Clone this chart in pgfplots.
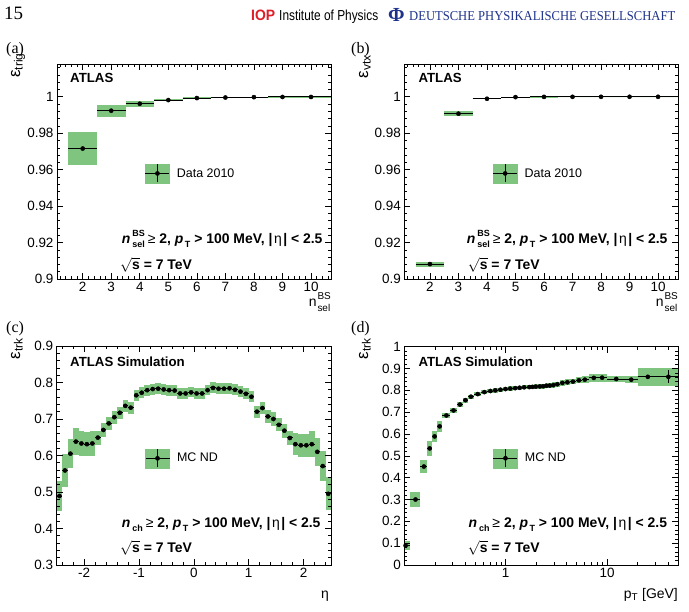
\documentclass[border=0pt]{standalone}
\usepackage{fontspec}
\setmainfont{Liberation Sans}
\newfontfamily\serifface{Liberation Serif}
\usepackage{graphicx}
\usepackage{pgfplots}
\usepackage{pgfplotstable}
\pgfplotsset{compat=1.18}

\definecolor{bandgreen}{RGB}{127,197,127}
\definecolor{iopred}{RGB}{222,30,40}
\definecolor{dpgblue}{RGB}{30,50,140}

\newcommand\fs[1]{\fontsize{#1}{#1}\selectfont}

% ---------------- data ----------------
% trigger efficiency vs n_sel^BS
\pgfplotstableread{
x   xlo  xhi   y        sys     stat
2   1.5  2.5   0.9716   0.0089  0
3   2.5  3.5   0.99236  0.0033  0
4   3.5  4.5   0.99618  0.0017  0
5   4.5  5.5   0.9982   0.0007  0
6   5.5  6.5   0.9993   0.0004  0
7   6.5  7.5   0.9996   0.0002  0
8   7.5  8.5   0.9998   0.0001  0
9   8.5  9.5   0.9999   0.0001  0
10  9.5  10.7  0.9999   0.0001  0
}\tabtrig

% vertex efficiency vs n_sel^BS
\pgfplotstableread{
x   xlo  xhi   y        sys     stat
2   1.5  2.5   0.9082   0.0014  0
3   2.5  3.5   0.99073  0.0013  0
4   3.5  4.5   0.99891  0.0003  0
5   4.5  5.5   0.99982  0.0001  0
6   5.5  6.5   0.99995  0.0001  0
7   6.5  7.5   0.99998  0.0000  0
8   7.5  8.5   0.99999  0.0000  0
9   8.5  9.5   1.0      0.0000  0
10  9.5  10.7  1.0      0.0000  0
}\tabvtx

% track efficiency vs eta
\pgfplotstableread{
x      xlo    xhi    y      sys    stat
-2.45  -2.5   -2.4   0.489  0.042  0
-2.35  -2.4   -2.3   0.559  0.045  0
-2.25  -2.3   -2.2   0.605  0.040  0
-2.15  -2.2   -2.1   0.638  0.036  0
-2.05  -2.1   -2.0   0.633  0.034  0
-1.95  -2.0   -1.9   0.631  0.033  0
-1.85  -1.9   -1.8   0.633  0.033  0
-1.75  -1.8   -1.7   0.649  0.019  0
-1.65  -1.7   -1.6   0.670  0.019  0
-1.55  -1.6   -1.5   0.688  0.018  0
-1.45  -1.5   -1.4   0.705  0.018  0
-1.35  -1.4   -1.3   0.717  0.017  0
-1.25  -1.3   -1.2   0.736  0.016  0
-1.15  -1.2   -1.1   0.731  0.016  0
-1.05  -1.1   -1.0   0.765  0.015  0
-0.95  -1.0   -0.9   0.772  0.015  0
-0.85  -0.9   -0.8   0.779  0.015  0
-0.75  -0.8   -0.7   0.782  0.015  0
-0.65  -0.7   -0.6   0.783  0.015  0
-0.55  -0.6   -0.5   0.781  0.015  0
-0.45  -0.5   -0.4   0.779  0.015  0
-0.35  -0.4   -0.3   0.778  0.015  0
-0.25  -0.3   -0.2   0.770  0.014  0
-0.15  -0.2   -0.1   0.770  0.014  0
-0.05  -0.1    0.0   0.773  0.014  0
 0.05   0.0    0.1   0.770  0.014  0
 0.15   0.1    0.2   0.770  0.014  0
 0.25   0.2    0.3   0.779  0.014  0
 0.35   0.3    0.4   0.785  0.015  0
 0.45   0.4    0.5   0.783  0.015  0
 0.55   0.5    0.6   0.783  0.015  0
 0.65   0.6    0.7   0.784  0.015  0
 0.75   0.7    0.8   0.780  0.015  0
 0.85   0.8    0.9   0.775  0.015  0
 0.95   0.9    1.0   0.769  0.015  0
 1.05   1.0    1.1   0.761  0.015  0
 1.15   1.1    1.2   0.720  0.016  0
 1.25   1.2    1.3   0.730  0.016  0
 1.35   1.3    1.4   0.707  0.017  0
 1.45   1.4    1.5   0.700  0.018  0
 1.55   1.5    1.6   0.684  0.018  0
 1.65   1.6    1.7   0.668  0.019  0
 1.75   1.7    1.8   0.648  0.019  0
 1.85   1.8    1.9   0.631  0.030  0
 1.95   1.9    2.0   0.628  0.032  0
 2.05   2.0    2.1   0.628  0.032  0
 2.15   2.1    2.2   0.631  0.035  0
 2.25   2.2    2.3   0.610  0.038  0
 2.35   2.3    2.4   0.571  0.042  0
 2.45   2.4    2.5   0.495  0.045  0
}\tabeta

% track efficiency vs pT [GeV]
\pgfplotstableread{
x      xlo    xhi    y      sys    stat
0.103  0.100  0.115  0.089  0.019  0
0.129  0.115  0.143  0.300  0.036  0
0.156  0.143  0.166  0.451  0.030  0
0.178  0.166  0.188  0.534  0.034  0
0.199  0.188  0.210  0.589  0.026  0
0.223  0.210  0.238  0.635  0.025  0
0.260  0.238  0.282  0.685  0.013  0
0.306  0.282  0.330  0.708  0.012  0
0.354  0.330  0.378  0.735  0.011  0
0.401  0.378  0.427  0.755  0.011  0
0.454  0.427  0.490  0.771  0.010  0
0.530  0.490  0.572  0.783  0.010  0
0.616  0.572  0.660  0.792  0.010  0
0.706  0.660  0.748  0.797  0.010  0
0.790  0.748  0.838  0.800  0.010  0
0.887  0.838  0.940  0.803  0.010  0
0.995  0.940  1.050  0.806  0.010  0
1.110  1.050  1.175  0.808  0.010  0
1.240  1.175  1.305  0.810  0.010  0
1.370  1.305  1.445  0.812  0.010  0
1.520  1.445  1.610  0.814  0.010  0
1.710  1.610  1.775  0.815  0.010  0
1.840  1.775  1.910  0.816  0.010  0
1.980  1.910  2.070  0.817  0.010  0
2.170  2.070  2.255  0.818  0.010  0
2.340  2.255  2.430  0.819  0.011  0
2.520  2.430  2.620  0.821  0.011  0
2.720  2.620  2.830  0.822  0.011  0
2.950  2.830  3.090  0.824  0.012  0
3.230  3.090  3.420  0.828  0.012  0
3.620  3.420  3.840  0.834  0.012  0
4.060  3.840  4.330  0.837  0.013  0
4.600  4.330  4.920  0.840  0.013  0
5.270  4.920  5.640  0.846  0.014  0
6.030  5.640  6.700  0.849  0.015  0
7.390  6.700  8.000  0.857  0.017  0
8.930  8.000  10.00  0.858  0.018  0
12.30  10.00  15.00  0.852  0.016  0.003
17.30  15.00  20.00  0.849  0.016  0.004
25.20  20.00  30.00  0.862  0.040  0.008
40.20  30.00  50.00  0.862  0.042  0.030
}\tabpt

% ---------------- styles ----------------
\pgfplotsset{
  sysbox/.style={fill=bandgreen, draw=none, forget plot},
  binline/.style={black, line width=1bp, forget plot},
  datapts/.style={only marks, mark=*, mark size=2.1bp, black, forget plot,
    error bars/.cd, y dir=both, y explicit, error mark=none,
    error bar style={line width=1bp, black}},
  legimg/.style={legend image code/.code={
    \fill[bandgreen] (0bp,-9.5bp) rectangle (24bp,9.5bp);
    \draw[black,line width=1bp] (0bp,0bp) -- (24bp,0bp);
    \draw[black,line width=1bp] (12bp,-9bp) -- (12bp,9bp);
    \fill[black] (12bp,0bp) circle (2.1bp);}},
  atlasaxis/.style={
    scale only axis, anchor=south west, axis on top,
    axis line style={line width=0.8bp},
    tick align=inside,
    major tick length=6bp, minor tick length=3bp,
    every tick/.append style={black, line width=0.6bp},
    tick label style={font=\fs{13.5}},
    /pgf/number format/assume math mode=true,
    legend style={draw=none, fill=none, inner sep=0pt, outer sep=0pt,
      anchor=west, font=\fs{12.5}, column sep=5bp},
    legend cell align=left,
  },
}

% one green box and one horizontal bin line for every row of a table
\newcommand\binboxes[1]{%
  \pgfplotstablegetrowsof{#1}%
  \pgfmathtruncatemacro\lastrow{\pgfplotsretval-1}%
  \pgfplotsforeachungrouped \r in {0,...,\lastrow}{%
    \pgfplotstablegetelem{\r}{xlo}\of{#1}\let\bxa\pgfplotsretval
    \pgfplotstablegetelem{\r}{xhi}\of{#1}\let\bxb\pgfplotsretval
    \pgfplotstablegetelem{\r}{y}\of{#1}\let\byc\pgfplotsretval
    \pgfplotstablegetelem{\r}{sys}\of{#1}\let\bys\pgfplotsretval
    \pgfmathsetmacro\bya{\byc-\bys}%
    \pgfmathsetmacro\byb{\byc+\bys}%
    \edef\boxcmd{%
      \noexpand\addplot[sysbox] coordinates {(\bxa,\bya) (\bxb,\bya) (\bxb,\byb) (\bxa,\byb)};%
      \noexpand\addplot[binline] coordinates {(\bxa,\byc) (\bxb,\byc)};%
    }%
    \boxcmd
  }%
}

% superscript stacked over subscript: #1 size, #2 raise, #3 drop, #4 upper, #5 lower
\newbox\scrup \newbox\scrdn \newdimen\scrw
\newcommand\stackscr[5]{%
  \setbox\scrup\hbox{\fs{#1}#4}\setbox\scrdn\hbox{\fs{#1}#5}%
  \scrw=\wd\scrup \ifdim\wd\scrdn>\scrw \scrw=\wd\scrdn \fi
  \rlap{\raisebox{#2}{\copy\scrup}}\rlap{\raisebox{-#3}{\copy\scrdn}}\kern\scrw\relax}
\newcommand\lowscr[3]{\raisebox{-#2}{\fs{#1}#3}}
\newcommand\etacut{\textbf{|}\kern1.5bp η\kern1.5bp\textbf{| < 2.5}}
\newcommand\cutsBS{\textbf{\textit{n}\kern2bp\stackscr{9}{7bp}{4bp}{BS}{sel}}\kern3bp≥ \textbf{2, \textit{p}\kern1.5bp\lowscr{9}{4bp}{T}} \textbf{> 100 MeV, }\etacut}
\newcommand\cutsCH{\textbf{\textit{n}\kern2bp\lowscr{9}{4bp}{ch}}\kern3bp≥ \textbf{2, \textit{p}\kern1.5bp\lowscr{9}{4bp}{T}} \textbf{> 100 MeV, }\etacut}
\newcommand\energy{$\sqrt{\mbox{\bfseries s}}$\textbf{ = 7 TeV}}
\newcommand\nsel{n\kern0.8bp\stackscr{10}{7.5bp}{4.5bp}{BS}{sel}}
\newcommand\eps[1]{ε$_{\mbox{\fs{12}#1}}$}

\begin{document}
\begin{tikzpicture}
\useasboundingbox (0,0) rectangle (689bp,612bp);

% page header
\node[anchor=base west, inner sep=0] at (4bp,592bp) {\serifface\fs{19}15};
\node[anchor=base west, inner sep=0] at (251bp,591bp) {\color{iopred}\resizebox{24bp}{10.5bp}{\bfseries IOP}};
\node[anchor=base west, inner sep=0] at (279bp,591bp) {\resizebox{99bp}{10.5bp}{Institute of Physics}};
\node[anchor=base west, inner sep=0] at (388bp,590bp) {\color{dpgblue}\serifface\bfseries\fs{20}Φ};
\node[anchor=base west, inner sep=0] at (409bp,591bp) {\color{dpgblue}\resizebox{266bp}{9bp}{\serifface DEUTSCHE PHYSIKALISCHE GESELLSCHAFT}};

% (a) trigger efficiency
\begin{axis}[atlasaxis, at={(57bp,333bp)}, width=274bp, height=215bp,
  xmin=1.1, xmax=10.7, ymin=0.9, ymax=1.018,
  xtick={2,3,4,5,6,7,8,9,10}, minor xtick={1.2,1.4,...,10.6},
  ytick={0.9,0.92,0.94,0.96,0.98,1}, yticklabels={0.9,0.92,0.94,0.96,0.98,1},
  minor ytick={0.904,0.908,...,1.016},
  legend style={at={(axis description cs:0.321,0.491)}}]
  \binboxes{\tabtrig}
  \addplot[datapts] table[x=x, y=y, y error=stat] {\tabtrig};
  \addlegendimage{legimg}
  \addlegendentry{Data 2010}
\end{axis}

% (b) vertex efficiency
\begin{axis}[atlasaxis, at={(404.3bp,333bp)}, width=273.7bp, height=215bp,
  xmin=1.1, xmax=10.7, ymin=0.9, ymax=1.018,
  xtick={2,3,4,5,6,7,8,9,10}, minor xtick={1.2,1.4,...,10.6},
  ytick={0.9,0.92,0.94,0.96,0.98,1}, yticklabels={0.9,0.92,0.94,0.96,0.98,1},
  minor ytick={0.904,0.908,...,1.016},
  legend style={at={(axis description cs:0.323,0.491)}}]
  \binboxes{\tabvtx}
  \addplot[datapts] table[x=x, y=y, y error=stat] {\tabvtx};
  \addlegendimage{legimg}
  \addlegendentry{Data 2010}
\end{axis}

% (c) track efficiency vs eta
\begin{axis}[atlasaxis, at={(56.7bp,47bp)}, width=274.3bp, height=219bp,
  xmin=-2.5, xmax=2.5, ymin=0.3, ymax=0.9,
  xtick={-2,-1,0,1,2}, xticklabels={-2,-1,0,1,2}, minor xtick={-2.4,-2.2,...,2.4},
  ytick={0.3,0.4,0.5,0.6,0.7,0.8,0.9}, yticklabels={0.3,0.4,0.5,0.6,0.7,0.8,0.9},
  minor ytick={0.32,0.34,...,0.88},
  legend style={at={(axis description cs:0.322,0.487)}}]
  \binboxes{\tabeta}
  \addplot[datapts] table[x=x, y=y, y error=stat] {\tabeta};
  \addlegendimage{legimg}
  \addlegendentry{MC ND}
\end{axis}

% (d) track efficiency vs pT
\begin{axis}[atlasaxis, at={(404.3bp,47bp)}, width=273.7bp, height=218.3bp,
  xmode=log, xmin=0.1, xmax=50, ymin=0, ymax=1,
  xtick={1,10}, xticklabels={1,10},
  minor xtick={0.2,0.3,0.4,0.5,0.6,0.7,0.8,0.9,2,3,4,5,6,7,8,9,20,30,40},
  ytick={0,0.1,0.2,0.3,0.4,0.5,0.6,0.7,0.8,0.9,1},
  yticklabels={0,0.1,0.2,0.3,0.4,0.5,0.6,0.7,0.8,0.9,1},
  minor ytick={0.02,0.04,...,0.98},
  legend style={at={(axis description cs:0.324,0.489)}}]
  \binboxes{\tabpt}
  \addplot[datapts] table[x=x, y=y, y error=stat] {\tabpt};
  \addlegendimage{legimg}
  \addlegendentry{MC ND}
\end{axis}

% panel letters
\node[anchor=base west, inner sep=0] at (6bp,558.5bp) {\serifface\fs{16}(a)};
\node[anchor=base west, inner sep=0] at (351bp,558.5bp) {\serifface\fs{16}(b)};
\node[anchor=base west, inner sep=0] at (6bp,279bp) {\serifface\fs{16}(c)};
\node[anchor=base west, inner sep=0] at (351bp,279bp) {\serifface\fs{16}(d)};

% axis titles
\node[rotate=90, anchor=base east, inner sep=0] at (20bp,559bp) {\fs{17}\eps{trig}};
\node[rotate=90, anchor=base east, inner sep=0] at (368bp,557bp) {\fs{17}\eps{vtx}};
\node[rotate=90, anchor=base east, inner sep=0] at (20bp,274bp) {\fs{17}\eps{trk}};
\node[rotate=90, anchor=base east, inner sep=0] at (368bp,274bp) {\fs{17}\eps{trk}};
\node[anchor=base east, inner sep=0] at (331bp,305bp) {\fs{14}\nsel};
\node[anchor=base east, inner sep=0] at (678bp,305bp) {\fs{14}\nsel};
\node[anchor=base east, inner sep=0] at (329bp,14bp) {\fs{14}η};
\node[anchor=base east, inner sep=0] at (678bp,14bp) {\fs{14}p$_{\mbox{\fs{10}T}}$ [GeV]};

% in-frame labels
\node[anchor=base west, inner sep=0] at (70bp,529.3bp) {\fs{13.3}\bfseries ATLAS};
\node[anchor=base west, inner sep=0] at (418.3bp,529.7bp) {\fs{13.3}\bfseries ATLAS};
\node[anchor=base west, inner sep=0] at (70bp,245.3bp) {\fs{13.3}\bfseries ATLAS Simulation};
\node[anchor=base west, inner sep=0] at (418.3bp,245.3bp) {\fs{13.3}\bfseries ATLAS Simulation};
\node[anchor=base west, inner sep=0] at (121.7bp,368bp) {\fs{14}\cutsBS};
\node[anchor=base west, inner sep=0] at (466.7bp,368bp) {\fs{14}\cutsBS};
\node[anchor=base west, inner sep=0] at (121.7bp,84.7bp) {\fs{14}\cutsCH};
\node[anchor=base west, inner sep=0] at (468.3bp,84.7bp) {\fs{14}\cutsCH};
\node[anchor=base west, inner sep=0] at (120bp,342.7bp) {\fs{14}\energy};
\node[anchor=base west, inner sep=0] at (467.7bp,342.7bp) {\fs{14}\energy};
\node[anchor=base west, inner sep=0] at (120bp,59.3bp) {\fs{14}\energy};
\node[anchor=base west, inner sep=0] at (467.7bp,59.3bp) {\fs{14}\energy};
\end{tikzpicture}
\end{document}
